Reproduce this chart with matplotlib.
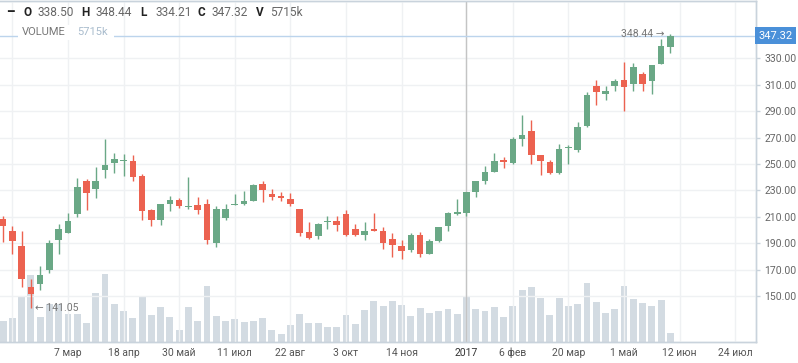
import matplotlib
matplotlib.use("Agg")
import matplotlib.pyplot as plt
import matplotlib.dates as mdates
from matplotlib.patches import Rectangle
import numpy as np
import pandas as pd

# weekly candles, Monday dates
dates = pd.date_range("2016-01-18", periods=73, freq="W-MON")

opens = [208.2, 199.4, 188.0, 157.0, 159.0, 170.1, 192.1, 197.6, 212.5, 237.2,
         231.4, 245.8, 251.1, 252.1, 252.3, 241.0, 215.0, 207.9, 220.1, 222.8,
         217.8, 219.0, 219.8, 190.3, 209.5, 219.3, 219.5, 222.1, 235.2, 227.4,
         226.1, 223.6, 216.0, 198.6, 195.3, 206.2, 206.9, 212.5, 200.6, 196.6,
         200.9, 199.4, 193.3, 188.0, 185.2, 196.6, 182.2, 191.5, 202.9, 212.5,
         213.3, 228.9, 237.2, 244.0, 252.8, 250.8, 269.2, 274.8, 256.6, 251.3,
         243.5, 261.9, 260.4, 278.6, 308.8, 302.8, 309.3, 313.9, 310.8, 317.9,
         312.9, 325.7, 338.50]
highs = [210.5, 203.4, 199.4, 163.3, 172.9, 192.1, 204.4, 213.2, 239.7, 239.0,
         247.8, 269.0, 258.4, 257.9, 256.6, 242.7, 216.3, 220.1, 225.9, 224.6,
         240.2, 225.3, 223.8, 218.3, 220.1, 227.6, 229.6, 235.2, 236.9, 231.1,
         228.9, 228.4, 216.3, 206.2, 205.7, 210.5, 211.0, 215.0, 204.4, 206.2,
         213.2, 202.4, 197.4, 192.3, 197.4, 198.6, 193.1, 202.6, 213.5, 223.3,
         229.0, 237.4, 248.8, 258.4, 255.4, 270.5, 287.1, 283.1, 256.8, 253.3,
         264.9, 264.2, 281.8, 304.5, 313.4, 309.1, 314.1, 327.2, 326.5, 319.4,
         325.0, 344.4, 348.44]
lows = [191.0, 182.2, 157.0, 141.05, 154.5, 167.8, 181.5, 197.4, 210.0, 215.0,
        224.6, 239.5, 243.3, 240.7, 237.2, 207.9, 203.2, 204.2, 214.5, 216.8,
        215.8, 212.5, 189.8, 187.3, 207.9, 218.8, 218.8, 221.8, 221.3, 223.1,
        222.1, 218.3, 195.6, 193.3, 193.6, 201.1, 199.6, 195.6, 195.6, 192.1,
        199.4, 186.0, 179.7, 177.7, 183.5, 179.7, 181.7, 191.0, 199.4, 211.7,
        210.5, 225.1, 234.7, 243.8, 247.3, 250.3, 263.7, 250.3, 242.0, 242.7,
        242.7, 250.3, 259.1, 278.4, 295.0, 298.2, 305.3, 290.1, 305.3, 305.3,
        303.3, 325.5, 334.21]
closes = [202.9, 191.6, 162.8, 151.5, 166.3, 190.3, 200.6, 206.7, 232.7, 227.9,
          237.2, 249.6, 253.8, 253.1, 240.2, 214.5, 207.9, 219.5, 222.6, 218.3,
          218.5, 215.5, 192.8, 215.8, 215.8, 220.1, 222.1, 234.4, 230.1, 225.1,
          224.6, 220.1, 197.4, 194.3, 204.9, 206.9, 204.2, 196.6, 196.6, 199.4,
          199.6, 190.5, 188.5, 184.2, 196.6, 181.7, 191.5, 202.4, 213.2, 213.5,
          228.9, 237.2, 244.0, 252.3, 251.6, 268.7, 272.0, 257.1, 252.1, 243.5,
          261.2, 262.9, 277.8, 302.0, 304.3, 305.3, 313.1, 308.3, 323.9, 310.8,
          324.7, 339.1, 347.32]
# volume in thousands
volumes = [13200, 15000, 27800, 41700, 15700, 23700, 23700, 17500, 17500, 11900,
           30600, 42400, 23700, 19400, 15000, 27800, 16900, 21600, 15400, 7600,
           21600, 13200, 34700, 16000, 13200, 14400, 12500, 13200, 15000, 7600,
           5100, 10700, 17500, 11900, 11900, 9400, 9400, 16900, 11300, 20000,
           25200, 22200, 25200, 22700, 16000, 21200, 18100, 19400, 20600, 17500,
           27800, 20600, 19400, 21600, 15500, 22500, 32400, 34300, 27500, 16900,
           27500, 22500, 23700, 36800, 25000, 18100, 20600, 34900, 26800, 24300,
           22500, 26200, 5715]

tick_dates = ["2016-01-25", "2016-03-07", "2016-04-18", "2016-05-30", "2016-07-11",
              "2016-08-22", "2016-10-03", "2016-11-14", "2017-01-02", "2017-02-06",
              "2017-03-20", "2017-05-01", "2017-06-12", "2017-07-24"]
tick_labels = ["", "7 мар", "18 апр", "30 май", "11 июл", "22 авг", "3 окт",
               "14 ноя", "2017", "6 фев", "20 мар", "1 май", "12 июн", "24 июл"]
price_ticks = [150, 170, 190, 210, 230, 250, 270, 290, 310, 330]

GREEN = "#6aa886"
RED = "#ec6250"
VOL = "#d3dbe2"
GRID = "#eff1f3"
BORDER = "#c9d3dc"
FONT = ["Roboto", "DejaVu Sans"]
plt.rcParams["font.family"] = FONT

fig = plt.figure(figsize=(7.98, 3.63), dpi=100)
ax_vol = fig.add_axes([0, 21 / 363, 756 / 798, 341.5 / 363])
ax = ax_vol.twinx()
ax.set_zorder(ax_vol.get_zorder() + 1)
ax.patch.set_visible(False)

x = mdates.date2num(dates)
o = np.array(opens); h = np.array(highs); l = np.array(lows); c = np.array(closes)
up = c >= o
colors = np.where(up, GREEN, RED)

# volume
ax_vol.bar(x, volumes, width=5.2, color=VOL, zorder=2)
ax_vol.set_ylim(0, 342 * 621)
ax_vol.set_yticks([])

# grid on price axes
for d in tick_dates:
    ax.axvline(mdates.datestr2num(d), color=GRID, lw=1, zorder=0)
for p in price_ticks:
    ax.axhline(p, color=GRID, lw=1, zorder=0)
ax.axvline(mdates.datestr2num("2017-01-02"), color="#c4c4c4", lw=1, zorder=1)

# candles
ax.vlines(x, l, h, colors=colors, lw=1, zorder=3)
body = np.maximum(np.abs(c - o), 0.7)
ax.bar(x, body, bottom=np.minimum(o, c), width=5.0, color=colors, zorder=4)

# last price line
last = closes[-1]
ax.axhline(last, color="#bcd4ec", lw=1, zorder=2)

left = mdates.date2num(dates[0]) - 2.34
ax.set_xlim(left, left + 571.0)
ax.set_ylim(115.2, 373.9)

ax.set_yticks(price_ticks)
ax.set_yticklabels([f"{p:.2f}" for p in price_ticks])
ax.tick_params(axis="y", length=3, width=1, color=BORDER, labelsize=7.5,
               labelcolor="#666666", pad=3)
ax_vol.set_xticks([mdates.datestr2num(d) for d in tick_dates])
ax_vol.set_xticklabels(tick_labels)
ax_vol.tick_params(axis="x", length=0, labelsize=7.5, labelcolor="#555555", pad=4)
for lbl in ax_vol.get_xticklabels():
    if lbl.get_text() == "2017":
        lbl.set_color("#333333")

for a in (ax, ax_vol):
    a.spines["left"].set_visible(False)
    for s in ("top", "right", "bottom"):
        a.spines[s].set_color(BORDER)
        a.spines[s].set_linewidth(1)

# current price badge
ax.text(1.003, last, f"{last:.2f}", transform=ax.get_yaxis_transform(),
        ha="left", va="center", fontsize=8, color="white", zorder=10,
        bbox=dict(boxstyle="square,pad=0.3", fc="#4a90d9", ec="none"), clip_on=False)

# high / low marks
i_low = int(np.argmin(l))
ax.annotate(f"← {lows[i_low]:.2f}", xy=(x[i_low], lows[i_low]), xytext=(3, 0),
            textcoords="offset points", ha="left", va="center", fontsize=7.5,
            color="#777777", zorder=6)
i_high = int(np.argmax(h))
ax.annotate(f"{highs[i_high]:.2f} →", xy=(x[i_high], highs[i_high]), xytext=(-4, 0),
            textcoords="offset points", ha="right", va="center", fontsize=7.5,
            color="#777777", zorder=6)

# header legend
def ftext(px, py, s, **kw):
    fig.text(px / 798, 1 - py / 363, s, va="center", ha="left", **kw)

ftext(7, 12, "━", fontsize=8, color="#222222", fontweight="bold")
items = [("O", opens[-1], 23), ("H", highs[-1], 81), ("L", lows[-1], 140),
         ("C", closes[-1], 197)]
for name, val, px in items:
    ftext(px, 12, name, fontsize=8.5, color="#222222", fontweight="bold")
    ftext(px + 15, 12, f"{val:.2f}", fontsize=8.6, color="#666666")
ftext(256, 12, "V", fontsize=8.5, color="#222222", fontweight="bold")
ftext(270, 12, f"{volumes[-1]}k", fontsize=8.6, color="#666666")

# white backing behind the volume caption (hides the price line there)
fig.patches.append(Rectangle((18 / 798, 1 - 40 / 363), 96 / 798, 15 / 363,
                             transform=fig.transFigure, fc="white", ec="none",
                             zorder=5))
ftext(22, 32, "VOLUME", fontsize=8, color="#777777", zorder=6)
ftext(77, 32, f"{volumes[-1]}k", fontsize=8, color="#a9bccd", zorder=6)

fig.savefig("out.png", dpi=100)
